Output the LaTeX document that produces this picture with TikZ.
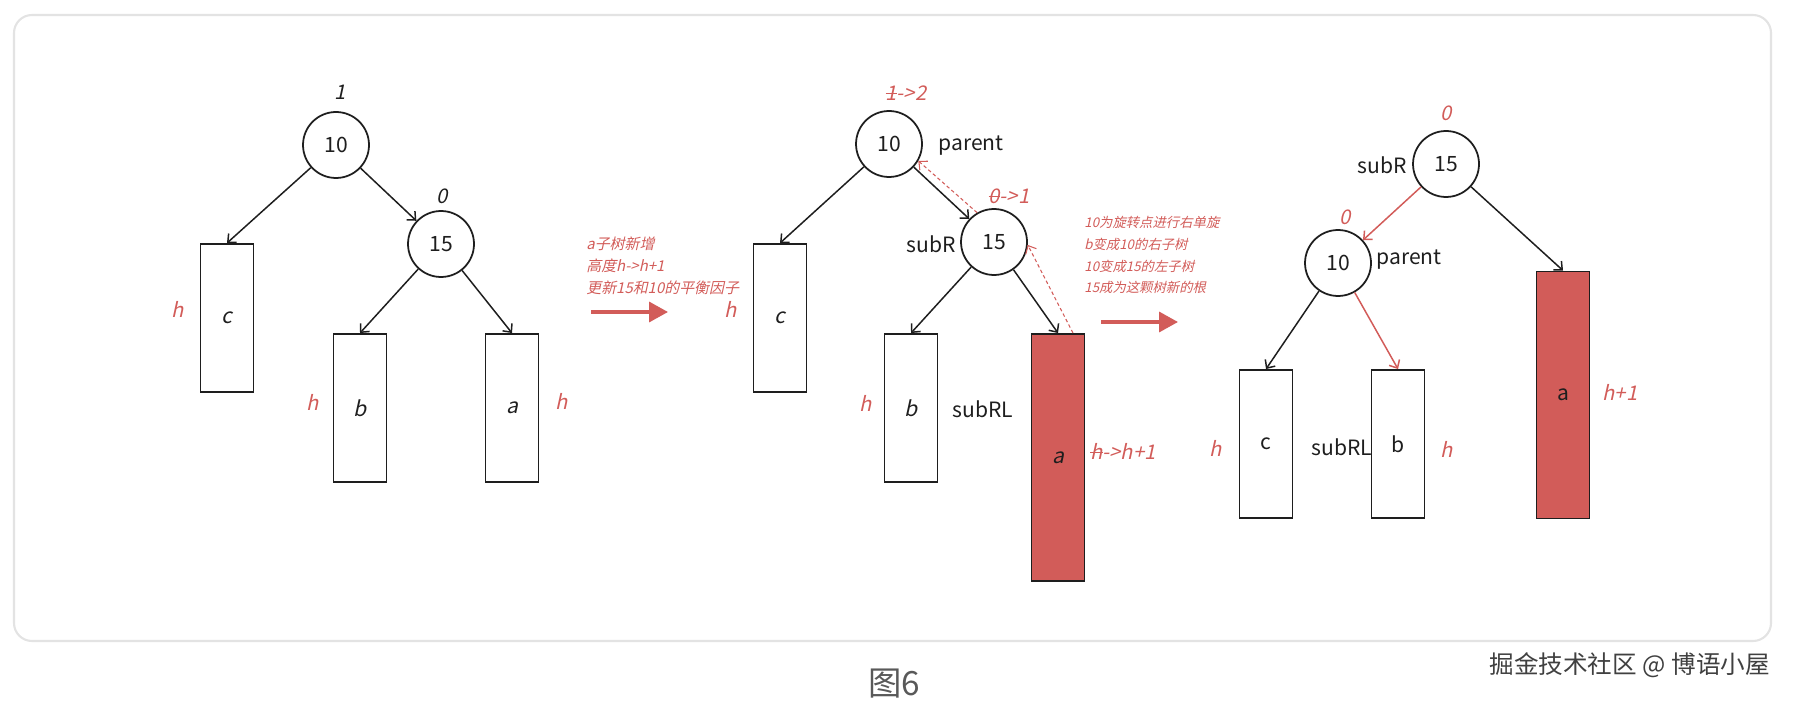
\documentclass[tikz,border=0pt]{standalone}
\usepackage{fontspec}
\setmainfont{Noto Sans CJK SC}
\newfontfamily\slfont[FakeSlant=0.22]{Noto Sans CJK SC}
\usepackage{xcolor}
\usepackage{tikz}
\usetikzlibrary{arrows.meta}
\definecolor{hired}{RGB}{210,92,89}
\definecolor{ink}{RGB}{30,30,30}
\newcommand\strk[1]{\setbox0\hbox{#1}\rlap{\raisebox{0.3em}{\rule{\wd0}{0.07em}}}\box0}

\begin{document}
\begin{tikzpicture}[x=0.02cm, y=-0.02cm,
  every node/.style={font=\fontsize{12}{14}\selectfont, text=ink},
  key/.style={circle, draw=ink, line width=1pt, fill=white, minimum size=1.32cm, inner sep=0pt},
  sub/.style={rectangle, draw=ink, line width=1.1pt, minimum width=1.06cm, minimum height=2.96cm,
    inner sep=0pt, font=\slfont\fontsize{12}{14}\selectfont},
  tall/.style={sub, fill=hired, minimum height=4.94cm},
  up/.style={font=\fontsize{12}{14}\selectfont},
  bf/.style={font=\slfont\fontsize{11.5}{14}\selectfont},
  bfr/.style={bf, text=hired},
  note/.style={font=\slfont\fontsize{8.5}{12.5}\selectfont, text=hired, align=left, anchor=west, inner sep=0pt},
  a/.style={-{Straight Barb[length=1.3mm,width=2.4mm]}, draw=ink, line width=0.85pt},
  ar/.style={a, draw=hired},
  ad/.style={ar, line width=0.6pt, dash pattern=on 2pt off 1.5pt},
  go/.style={-{Triangle[length=3.8mm,width=4mm]}, draw=hired, line width=2pt}
]
\useasboundingbox (0,0) rectangle (1797,702);
\draw[gray!22, line width=1.2pt, rounded corners=0.36cm] (14,15) rectangle (1771,641);

% before
\node[key] (L10) at (336,145) {10};
\node[key] (L15) at (441,244) {15};
\node[sub] (Lc) at (227,318) {c};
\node[sub] (Lb) at (360,408) {b};
\node[sub] (La) at (512,408) {a};
\node[bf] (Lbf10) at (340,92) {1};
\node[bf] (Lbf15) at (442,196) {0};
\node[bfr] (Lhc) at (178,309) {h};
\node[bfr] (Lhb) at (313,402) {h};
\node[bfr] (Lha) at (562,401) {h};
\draw[a] (L10) -- (Lc.north);
\draw[a] (L10) -- (L15);
\draw[a] (L15) -- (Lb.north);
\draw[a] (L15) -- (La.north);

\node[note] (note1) at (586,266) {a子树新增\\高度h->h+1\\更新15和10的平衡因子};
\coordinate (g1a) at (591,312);
\coordinate (g1b) at (668,312);
\draw[go] (g1a) -- (g1b);

% insert into a
\node[key] (M10) at (889,144) {10};
\node[key] (M15) at (994,242) {15};
\node[sub] (Mc) at (780,318) {c};
\node[sub] (Mb) at (911,408) {b};
\node[tall] (Ma) at (1058,457.5) {a};
\node[bfr] (Mbf10) at (906,93) {\strk{1}->2};
\node (Mpar) at (971,146) {parent};
\node[bfr] (Mbf15) at (1009,196) {\strk{0}->1};
\node (MsubR) at (931,244) {subR};
\node[bfr] (Mhc) at (731,309) {h};
\node[bfr] (Mhb) at (866,403) {h};
\node (MsubRL) at (983,409) {subRL};
\node[bfr] (Mha) at (1123,451) {\strk{h}->h+1};
\draw[a] (M10) -- (Mc.north);
\draw[a] (M10) -- (M15);
\draw[a] (M15) -- (Mb.north);
\draw[a] (M15) -- (Ma.north);
\draw[ad] ([xshift=0.3cm]Ma.north) -- (M15.-5);
\draw[ad] (M15.120) -- (M10.-30);

\node[note, font=\slfont\fontsize{7.6}{12.5}\selectfont] (note2) at (1084,255) {10为旋转点进行右单旋\\b变成10的右子树\\10变成15的左子树\\15成为这颗树新的根};
\coordinate (g2a) at (1101,322);
\coordinate (g2b) at (1178,322);
\draw[go] (g2a) -- (g2b);

% after rotation
\node[key] (R15) at (1446,164) {15};
\node[key] (R10) at (1338,263) {10};
\node[sub, up] (Rc) at (1266,444) {c};
\node[sub, up] (Rb) at (1398,444) {b};
\node[tall, up] (Ra) at (1563,395) {a};
\node[bfr] (Rbf15) at (1446,113) {0};
\node (RsubR) at (1382,165) {subR};
\node[bfr] (Rbf10) at (1345,217) {0};
\node (Rpar) at (1409,260) {parent};
\node[bfr] (Rhc) at (1216,448) {h};
\node (RsubRL) at (1342,447) {subRL};
\node[bfr] (Rhb) at (1447,449) {h};
\node[bfr] (Rha) at (1620,392) {h+1};
\draw[ar] (R15) -- (R10);
\draw[a] (R15) -- (Ra.north);
\draw[a] (R10) -- (Rc.north);
\draw[ar] (R10) -- (Rb.north);

\node[text=black!65, font=\fontsize{19}{22}\selectfont] (cap) at (894,684) {图6};
\node[anchor=east, text=black!75, font=\fontsize{14}{16}\selectfont] (mark) at (1776,665) {掘金技术社区 @ 博语小屋};
\end{tikzpicture}
\end{document}
